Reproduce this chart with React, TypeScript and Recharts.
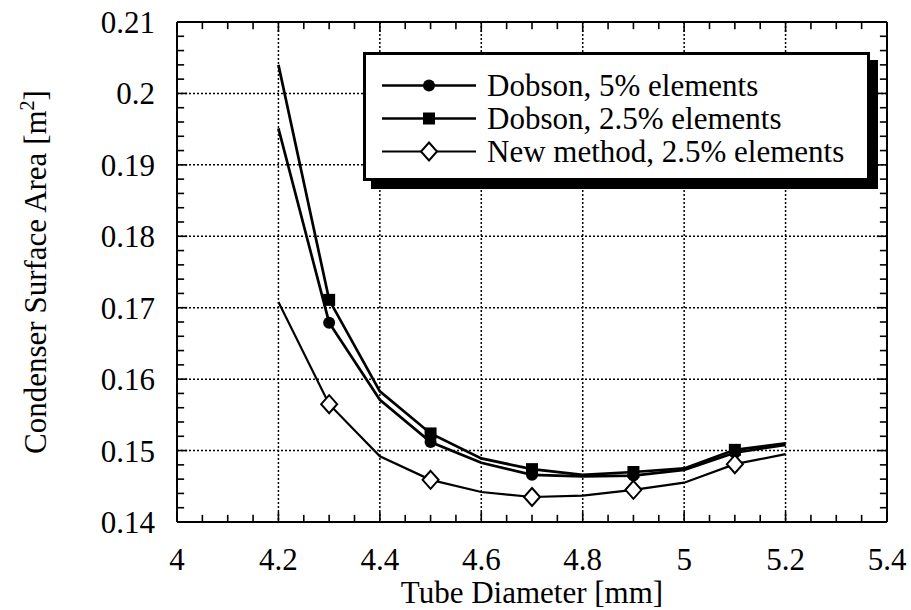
import { LineChart, Line, XAxis, YAxis, CartesianGrid, Legend, ReferenceLine } from 'recharts';

// tube diameter [mm]
const diameters = [4.2, 4.3, 4.4, 4.5, 4.6, 4.7, 4.8, 4.9, 5.0, 5.1, 5.2];
// condenser surface area [m2]
const dobson5 = [0.1951, 0.1679, 0.1571, 0.1512, 0.1483, 0.1466, 0.1464, 0.1465, 0.1473, 0.1497, 0.1508];
const dobson25 = [0.204, 0.1711, 0.1583, 0.1524, 0.1489, 0.1474, 0.1466, 0.147, 0.1475, 0.1501, 0.151];
const newMethod = [0.1708, 0.1565, 0.1492, 0.1459, 0.1442, 0.1435, 0.1437, 0.1445, 0.1455, 0.1481, 0.1495];
// symbols are only drawn on every other point
const markedDiameters = [4.3, 4.5, 4.7, 4.9, 5.1];

const seriesNames = ['Dobson, 5% elements', 'Dobson, 2.5% elements', 'New method, 2.5% elements'];

const xTicks = [4, 4.2, 4.4, 4.6, 4.8, 5, 5.2, 5.4];
const yTicks = [0.14, 0.15, 0.16, 0.17, 0.18, 0.19, 0.2, 0.21];
const xMinorTicks = Array.from({ length: 29 }, (_, i) => +(4 + i * 0.05).toFixed(2));
const yMinorTicks = Array.from({ length: 36 }, (_, i) => +(0.14 + i * 0.002).toFixed(3));

const X_MIN = 4;
const X_MAX = 5.4;
const Y_MIN = 0.14;
const Y_MAX = 0.21;

const data = diameters.map((d, i) => ({
  d,
  dobson5: dobson5[i],
  dobson25: dobson25[i],
  newMethod: newMethod[i],
}));

const FONT = "'Liberation Serif', 'Times New Roman', serif";
const frame = { stroke: '#000', strokeWidth: 2 };

// inward tick lengths, in axis units (about 10px major / 7px minor)
const X_TICK_LEN = { major: 0.0014, minor: 0.001 };
const Y_TICK_LEN = { major: 0.02, minor: 0.014 };

const near = (list: number[], v: number) => list.some((t) => Math.abs(t - v) < 1e-9);
const isMarked = (p: any) => p && near(markedDiameters, p.d);

function CircleDot(props: any) {
  const { cx, cy, payload, index } = props;
  if (!isMarked(payload)) return <g key={index} />;
  return <circle key={index} cx={cx} cy={cy} r={6} fill="#000" />;
}

function SquareDot(props: any) {
  const { cx, cy, payload, index } = props;
  if (!isMarked(payload)) return <g key={index} />;
  return <rect key={index} x={cx - 6} y={cy - 6} width={12} height={12} fill="#000" />;
}

function DiamondDot(props: any) {
  const { cx, cy, payload, index } = props;
  if (!isMarked(payload)) return <g key={index} />;
  return (
    <path
      key={index}
      d={`M${cx},${cy - 9} L${cx + 8},${cy} L${cx},${cy + 9} L${cx - 8},${cy} Z`}
      fill="#fff"
      stroke="#000"
      strokeWidth={2}
    />
  );
}

function LegendSymbol({ kind }: { kind: number }) {
  return (
    <svg width={94} height={33} style={{ display: 'block' }}>
      <line x1={0} y1={16.5} x2={94} y2={16.5} stroke="#000" strokeWidth={kind === 2 ? 2.2 : 2.7} />
      {kind === 0 && <circle cx={47} cy={16.5} r={6} fill="#000" />}
      {kind === 1 && <rect x={41} y={10.5} width={12} height={12} fill="#000" />}
      {kind === 2 && (
        <path d="M47,7.5 L55,16.5 L47,25.5 L39,16.5 Z" fill="#fff" stroke="#000" strokeWidth={2} />
      )}
    </svg>
  );
}

function LegendBox() {
  return (
    <div
      style={{
        boxSizing: 'border-box',
        width: 507,
        height: 129,
        border: '3px solid #000',
        boxShadow: '8px 8px 0 #000',
        background: '#fff',
        padding: '14px 0 0 16px',
        fontFamily: FONT,
        fontSize: 31,
        lineHeight: '33px',
        color: '#000',
      }}
    >
      {seriesNames.map((name, i) => (
        <div key={name} style={{ display: 'flex', alignItems: 'center', height: 33 }}>
          <LegendSymbol kind={i} />
          <span style={{ marginLeft: 11, whiteSpace: 'nowrap' }}>{name}</span>
        </div>
      ))}
    </div>
  );
}

function XTitle(props: any) {
  const { viewBox } = props;
  return (
    <text x={viewBox.x + viewBox.width / 2} y={viewBox.y + 81} textAnchor="middle" fontSize={31} fill="#000" fontFamily={FONT}>
      Tube Diameter [mm]
    </text>
  );
}

function YTitle(props: any) {
  const { viewBox } = props;
  const cx = viewBox.x + 46;
  const cy = viewBox.y + viewBox.height / 2;
  return (
    <text x={cx} y={cy} transform={`rotate(-90 ${cx} ${cy})`} textAnchor="middle" fontSize={31} fill="#000" fontFamily={FONT}>
      Condenser Surface Area [m
      <tspan dy={-12} fontSize={20}>2</tspan>
      <tspan dy={12}>]</tspan>
    </text>
  );
}

const tickLineProps = { xAxisId: 'x', yAxisId: 'y', stroke: '#000', strokeWidth: 1.6, ifOverflow: 'visible' as const };

export default function App() {
  return (
    <div style={{ position: 'absolute', left: 0, top: 0, width: 911, height: 610, background: '#fff', fontFamily: FONT }}>
      <LineChart width={911} height={610} data={data} margin={{ top: 22, right: 24, bottom: 0, left: 0 }}>
        <CartesianGrid xAxisId="x" yAxisId="y" stroke="#000" strokeDasharray="2 2" strokeWidth={1.5} />

        <XAxis
          xAxisId="x"
          dataKey="d"
          type="number"
          domain={[X_MIN, X_MAX]}
          ticks={xTicks}
          interval={0}
          allowDataOverflow
          height={88}
          tickLine={false}
          tickSize={0}
          tickMargin={26}
          axisLine={frame}
          tick={{ fill: '#000', fontSize: 31 }}
          label={XTitle}
        />
        <YAxis
          yAxisId="y"
          type="number"
          domain={[Y_MIN, Y_MAX]}
          ticks={yTicks}
          interval={0}
          allowDataOverflow
          width={177}
          tickLine={false}
          tickSize={0}
          tickMargin={22}
          axisLine={frame}
          tick={{ fill: '#000', fontSize: 31 }}
          label={YTitle}
        />

        {/* top and right frame */}
        <ReferenceLine xAxisId="x" yAxisId="y" y={Y_MAX} stroke="#000" strokeWidth={2} />
        <ReferenceLine xAxisId="x" yAxisId="y" x={X_MAX} stroke="#000" strokeWidth={2} />

        {/* inward tick marks on all four sides */}
        {xMinorTicks.map((v) => {
          const len = near(xTicks, v) ? X_TICK_LEN.major : X_TICK_LEN.minor;
          return [
            <ReferenceLine key={`xb${v}`} {...tickLineProps} segment={[{ x: v, y: Y_MIN }, { x: v, y: Y_MIN + len }]} />,
            <ReferenceLine key={`xt${v}`} {...tickLineProps} segment={[{ x: v, y: Y_MAX }, { x: v, y: Y_MAX - len }]} />,
          ];
        })}
        {yMinorTicks.map((v) => {
          const len = near(yTicks, v) ? Y_TICK_LEN.major : Y_TICK_LEN.minor;
          return [
            <ReferenceLine key={`yl${v}`} {...tickLineProps} segment={[{ x: X_MIN, y: v }, { x: X_MIN + len, y: v }]} />,
            <ReferenceLine key={`yr${v}`} {...tickLineProps} segment={[{ x: X_MAX, y: v }, { x: X_MAX - len, y: v }]} />,
          ];
        })}

        <Line xAxisId="x" yAxisId="y" type="linear" dataKey="dobson5" name={seriesNames[0]} stroke="#000" strokeWidth={2.7} dot={CircleDot} activeDot={false} isAnimationActive={false} />
        <Line xAxisId="x" yAxisId="y" type="linear" dataKey="dobson25" name={seriesNames[1]} stroke="#000" strokeWidth={2.7} dot={SquareDot} activeDot={false} isAnimationActive={false} />
        <Line xAxisId="x" yAxisId="y" type="linear" dataKey="newMethod" name={seriesNames[2]} stroke="#000" strokeWidth={2.2} dot={DiamondDot} activeDot={false} isAnimationActive={false} />

        <Legend
          layout="horizontal"
          verticalAlign="middle"
          align="center"
          wrapperStyle={{ left: 363, top: 52, width: 'auto', height: 'auto' }}
          content={() => <LegendBox />}
        />
      </LineChart>
    </div>
  );
}
